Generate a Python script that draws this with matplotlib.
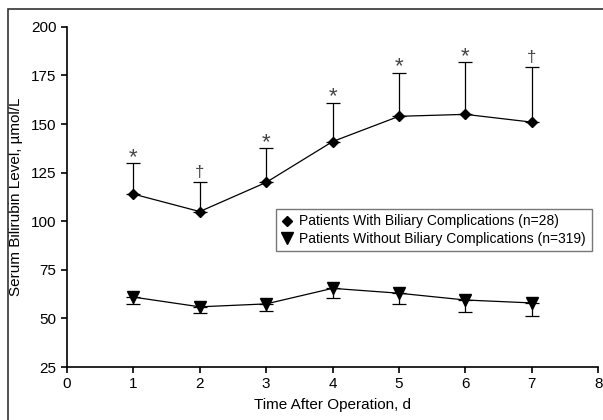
import matplotlib.pyplot as plt
from matplotlib.lines import Line2D
from matplotlib.patches import Rectangle

plt.rcParams['font.family'] = ['Liberation Sans', 'DejaVu Sans']

# Datos
dias = [1, 2, 3, 4, 5, 6, 7]
con_compl = [114, 105, 120, 141, 154, 155, 151]
con_compl_sup = [130, 120, 137.5, 161, 176.5, 182, 179.5]
sin_compl = [61, 56, 57.5, 65.5, 63, 59.5, 58]
sin_compl_inf = [57.5, 53, 54, 60.5, 57.5, 53.5, 51.5]
marcas = ['*', '†', '*', '*', '*', '*', '†']
etiquetas = ['Patients With Biliary Complications (n=28)',
             'Patients Without Biliary Complications (n=319)']

fig = plt.figure(figsize=(6.03, 4.20), dpi=100)
ax = fig.add_axes([0.111, 0.126, 0.881, 0.810])

# Marco de la figura
fig.patches.append(Rectangle((8 / 603, -0.1), 1.2, (420 - 9) / 420 + 0.1,
                             transform=fig.transFigure, fill=False,
                             edgecolor='#333333', linewidth=1.2))

err1 = [[0] * len(dias), [s - m for s, m in zip(con_compl_sup, con_compl)]]
err2 = [[m - i for m, i in zip(sin_compl, sin_compl_inf)], [0] * len(dias)]

ax.errorbar(dias, con_compl, yerr=err1, color='black', marker='D', markersize=5,
            linewidth=0.9, elinewidth=0.9, capsize=5, capthick=0.9)
ax.errorbar(dias, sin_compl, yerr=err2, color='black', marker='v', markersize=8,
            linewidth=0.9, elinewidth=0.9, capsize=5, capthick=0.9)

for d, s, m in zip(dias, con_compl_sup, marcas):
    if m == '*':
        ax.text(d, s - 2.5, m, ha='center', va='bottom', fontsize=16, color='#444444')
    else:
        ax.text(d, s + 1, m, ha='center', va='bottom', fontsize=12, color='#444444')

ax.set_xlim(0, 8)
ax.set_ylim(25, 200)
ax.set_xticks(range(0, 9))
ax.set_yticks(range(25, 201, 25))
ax.tick_params(labelsize=11, length=4, width=1.2, direction='out')
ax.spines['top'].set_visible(False)
ax.spines['right'].set_visible(False)
ax.spines['left'].set_linewidth(1.2)
ax.spines['bottom'].set_linewidth(1.2)
ax.set_xlabel('Time After Operation, d', fontsize=11, labelpad=5)
ax.set_ylabel('Serum Bilirubin Level, µmol/L', fontsize=11, labelpad=6)

# Leyenda solo con marcadores
manijas = [Line2D([], [], color='black', marker='D', markersize=5, linestyle='none'),
           Line2D([], [], color='black', marker='v', markersize=8, linestyle='none')]
leg = ax.legend(manijas, etiquetas, loc='upper left', bbox_to_anchor=(0.393, 0.465),
                fontsize=10, frameon=True, fancybox=False, edgecolor='#555555',
                handlelength=0.8, handletextpad=0.5, borderpad=0.4,
                labelspacing=0.25, borderaxespad=0)
leg.get_frame().set_linewidth(1.0)

fig.savefig('out.png', dpi=100)
